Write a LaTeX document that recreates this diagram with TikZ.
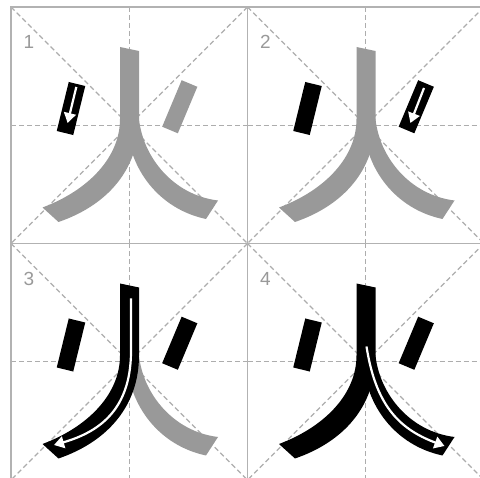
\documentclass[tikz,border=0pt]{standalone}
\usepackage{fontspec}
\setsansfont{Liberation Sans}
\usetikzlibrary{arrows.meta}

\tikzset{
  dotL/.style={insert path={(57.75,74.98) -- (74.25,79.02) -- (62.25,128.02) -- (45.75,123.98) -- cycle}},
  dotR/.style={insert path={(170.66,73.21) -- (186.34,79.79) -- (166.84,126.29) -- (151.16,119.71) -- cycle}},
  sweepL/.style={insert path={(109,40) -- (128,44) -- (128,112) .. controls (128,162) and (97,198) .. (47.5,215) -- (31.5,200.5) .. controls (78,183) and (109,150) .. (109,112) -- cycle}},
  sweepR/.style={insert path={(117,112) -- (128,112) .. controls (132,150) and (162,188) .. (207,193.5) -- (195,212) .. controls (148,202) and (118,162) .. (116,118) -- cycle}},
}

\begin{document}
\begin{tikzpicture}[x=1pt, y=-1pt,
  frame/.style={draw=black!30, line width=1.1pt},
  guide/.style={draw=black!32, line width=1.1pt, dash pattern=on 5pt off 3pt},
  done/.style={fill=black},
  todo/.style={fill=black!40},
  num/.style={text=black!40, font=\sffamily\fontsize{19}{19}\selectfont, inner sep=0pt},
  cur/.style={draw=white, line width=2.2pt, -{Triangle[length=10pt,width=12pt,fill=white]}},
]
\useasboundingbox (0,0) rectangle (480,478);
\clip (0,0) rectangle (480,478);

\foreach \n [evaluate=\n as \col using {int(mod(\n-1,2))}, evaluate=\n as \row using {int((\n-1)/2)}] in {1,...,4} {
  \begin{scope}[shift={(11+236.5*\col, 7+236.5*\row)}]
    % grid of the panel
    \draw[guide] (118.25,0) -- (118.25,236.5);
    \draw[guide] (0,118.25) -- (236.5,118.25);
    \draw[guide] (0,0) -- (236.5,236.5);
    \draw[guide] (236.5,0) -- (0,236.5);
    \draw[frame] (0,0) rectangle (236.5,236.5);
    \node[num] (num\n) at (18,35) {\n};
    % strokes, black once written
    \foreach \k/\s in {1/dotL,2/dotR,4/sweepR,3/sweepL} {
      \ifnum\k>\n \fill[todo, \s]; \else \fill[done, \s]; \fi
    }
    % direction of the current stroke
    \ifcase\n\or
      \draw[cur] (65.3,80) -- (56.6,116);
    \or
      \draw[cur] (176.5,81) -- (162.9,116);
    \or
      \draw[cur] (120,55) -- (120,110) .. controls (119,165) and (90,188) .. (43,201.5);
    \or
      \draw[cur] (119,103) .. controls (128,160) and (150,185) .. (197,202.5);
    \fi
  \end{scope}
}
\end{tikzpicture}
\end{document}
